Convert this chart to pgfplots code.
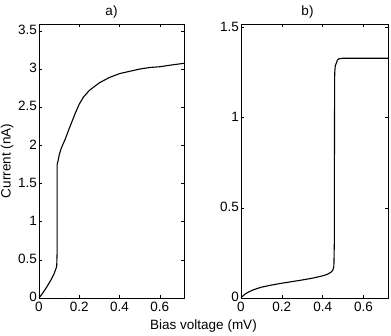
\documentclass[border=0pt]{standalone}
\usepackage{fontspec}
\setmainfont{Liberation Sans}
\usepackage{pgfplots}
\pgfplotsset{compat=1.18}

\pgfplotsset{
  panel/.style={
    scale only axis,
    height=274pt,
    xmin=0, xmax=0.72,
    ymin=0,
    xtick={0,0.2,0.4,0.6},
    tick align=inside,
    major tick length=3pt,
    axis line style={line width=0.8pt},
    every tick/.style={black, line width=0.6pt},
    /pgf/number format/assume math mode=true,
    tick label style={font=\fontsize{13.5}{15}\selectfont},
    title style={font=\fontsize{13.5}{15}\selectfont, yshift=-4pt},
    label style={font=\fontsize{13.5}{15}\selectfont},
    xticklabel style={yshift=-1pt},
    yticklabel style={xshift=1.5pt, yshift=1pt},
  },
}

\begin{document}
\begin{tikzpicture}
\path[use as bounding box] (-39pt,-37pt) rectangle (352pt,298pt);

\begin{axis}[panel,
    at={(0pt,0pt)}, anchor=south west,
    width=145pt,
    ymax=3.59,
    ytick={0,0.5,1,1.5,2,2.5,3,3.5},
    yticklabels={0,0.5,1,1.5,2,2.5,3,3.5},
    title={a)},
    ylabel={Current (nA)},
    ylabel style={yshift=-2pt},
]
\addplot[black, line width=1.1pt] coordinates {
  (0,0) (0.02,0.07) (0.04,0.15) (0.06,0.24) (0.075,0.32) (0.085,0.39) (0.088,0.42)
  (0.09,0.6) (0.09,1.75) (0.095,1.80) (0.1,1.87) (0.11,1.96) (0.13,2.08)
  (0.15,2.22) (0.18,2.42) (0.2,2.54) (0.22,2.63) (0.25,2.72) (0.3,2.82)
  (0.35,2.89) (0.4,2.94) (0.45,2.97) (0.5,3.0) (0.55,3.02) (0.6,3.03)
  (0.65,3.05) (0.72,3.075)
};
\end{axis}

\begin{axis}[panel,
    at={(202pt,0pt)}, anchor=south west,
    width=147pt,
    ymax=1.52,
    ytick={0,0.5,1,1.5},
    yticklabels={0,0.5,1,1.5},
    title={b)},
    title style={xshift=-7pt},
]
\addplot[black, line width=1.1pt] coordinates {
  (0,0) (0.01,0.012) (0.02,0.022) (0.04,0.035) (0.06,0.045) (0.08,0.053)
  (0.1,0.06) (0.15,0.072) (0.2,0.082) (0.25,0.091) (0.3,0.1) (0.35,0.11)
  (0.4,0.123) (0.42,0.13) (0.44,0.142) (0.45,0.155) (0.455,0.175)
  (0.457,0.3) (0.458,1.0) (0.459,1.25) (0.462,1.29) (0.468,1.305)
  (0.472,1.32) (0.48,1.327) (0.5,1.33) (0.72,1.33)
};
\end{axis}

\node[font=\fontsize{13.5}{15}\selectfont] at (164.5pt,-28pt) {Bias voltage (mV)};
\end{tikzpicture}
\end{document}
